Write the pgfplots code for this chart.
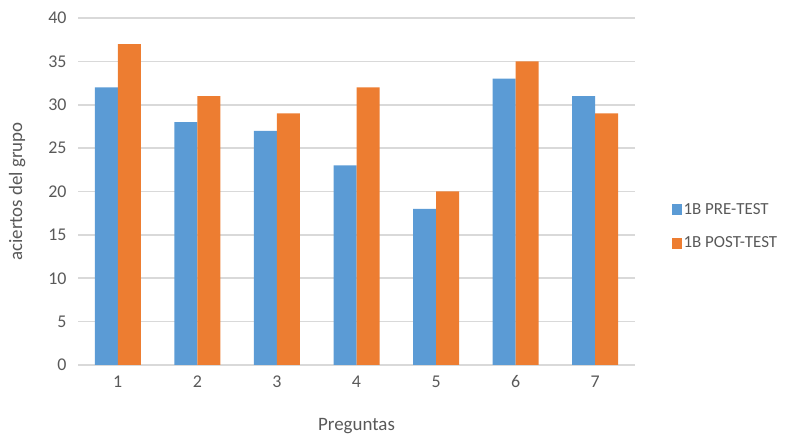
\documentclass[border=0pt]{standalone}
\usepackage{fontspec}
\setmainfont{Carlito}
\usepackage{pgfplots}
\pgfplotsset{compat=1.18}
\definecolor{preblue}{HTML}{5B9BD5}
\definecolor{postorange}{HTML}{ED7D31}
\definecolor{gridgray}{HTML}{D9D9D9}
\definecolor{txtgray}{HTML}{595959}
\begin{document}
\begin{tikzpicture}[x=1bp,y=1bp]
\path (0,0) rectangle (804,438);
\begin{axis}[
  at={(78bp,73bp)}, anchor=south west,
  scale only axis,
  width=557bp, height=347bp,
  ybar, bar width=23bp,
  xmin=0.5, xmax=7.5, ymin=0, ymax=40,
  xtick={1,...,7}, ytick={0,5,...,40},
  ymajorgrids, major grid style={gridgray, line width=1.6pt},
  axis x line*=bottom, axis y line*=left,
  x axis line style={gridgray, line width=1.6pt, -},
  y axis line style={draw=none},
  major tick length=0pt,
  tick label style={txtgray, font=\fontsize{18}{21}\selectfont},
  /pgf/number format/assume math mode=true,
  yticklabel style={xshift=-8bp},
  xticklabel style={yshift=-7bp},
  xlabel={Preguntas}, ylabel={aciertos del grupo},
  label style={txtgray, font=\fontsize{19}{22}\selectfont},
  xlabel style={yshift=-24bp},
  ylabel style={yshift=16bp},
  legend style={at={(1.06,0.40)}, anchor=west, draw=none, fill=none,
    font=\fontsize{17}{20}\selectfont, text=txtgray, row sep=17bp},
  legend cell align=left,
  legend image code/.code={\fill[#1] (2bp,-6bp) rectangle (12bp,5bp);},
]
\addplot[fill=preblue, draw=none, bar shift=-11.5bp] coordinates {(1,32) (2,28) (3,27) (4,23) (5,18) (6,33) (7,31)};
\addplot[fill=postorange, draw=none, bar shift=11.5bp] coordinates {(1,37) (2,31) (3,29) (4,32) (5,20) (6,35) (7,29)};
\legend{1B PRE-TEST, 1B POST-TEST}
\end{axis}
\end{tikzpicture}
\end{document}
